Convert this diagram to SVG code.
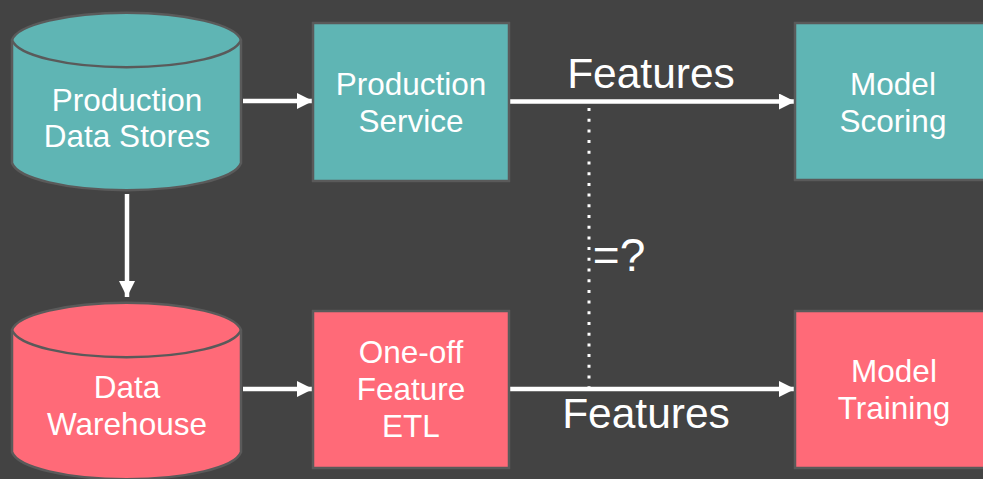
<svg xmlns="http://www.w3.org/2000/svg" width="983" height="479" viewBox="0 0 983 479">
  <defs>
    <marker id="arrow" markerUnits="userSpaceOnUse" markerWidth="18" markerHeight="16" refX="16" refY="8" orient="auto">
      <path d="M0,0 L16,8 L0,16 Z" fill="#ffffff"/>
    </marker>
    <style>
      .teal { fill: #5fb5b4; stroke: #5a5a5a; stroke-width: 2.5; }
      .pink { fill: #ff6a78; stroke: #5a5a5a; stroke-width: 2.5; }
      .lbl { font-family: "Liberation Sans", Arial, sans-serif; font-size: 31.5px; fill: #ffffff; text-anchor: middle; }
      .big { font-family: "Liberation Sans", Arial, sans-serif; font-size: 42.5px; fill: #ffffff; text-anchor: middle; }
      .flow { stroke: #ffffff; stroke-width: 4.5; fill: none; marker-end: url(#arrow); }
      .dots { stroke: #ffffff; stroke-width: 3; stroke-dasharray: 3 7.7; fill: none; }
    </style>
  </defs>

  <rect width="983" height="479" fill="#434343"/>

  <!-- connectors -->
  <g id="connectors">
    <line class="flow" x1="127" y1="194" x2="127" y2="297"/>
    <line class="flow" x1="243" y1="101" x2="313" y2="101"/>
    <line class="flow" x1="243" y1="389" x2="313" y2="389"/>
    <line class="flow" x1="510" y1="101.5" x2="795" y2="101.5"/>
    <line class="flow" x1="510" y1="389" x2="795" y2="389"/>
    <line class="dots" x1="589" y1="108" x2="589" y2="387"/>
    <text class="big" x="651" y="88">Features</text>
    <text class="big" x="646" y="428">Features</text>
    <text class="big" x="619" y="271" style="font-size:46px">=?</text>
  </g>

  <!-- Production Data Stores (cylinder) -->
  <g id="production-data-stores">
    <path class="teal" d="M12,40 A115,30 0 0 1 241,40 L241,163 A115,30 0 0 1 12,163 Z"/>
    <path class="teal" d="M12,40 A115,30 0 0 0 241,40" fill="none"/>
    <text class="lbl" x="127" y="111">Production</text>
    <text class="lbl" x="127" y="147">Data Stores</text>
  </g>

  <!-- Data Warehouse (cylinder) -->
  <g id="data-warehouse">
    <path class="pink" d="M12,330 A115,30 0 0 1 241,330 L241,452 A115,30 0 0 1 12,452 Z"/>
    <path class="pink" d="M12,330 A115,30 0 0 0 241,330" fill="none"/>
    <text class="lbl" x="127" y="398">Data</text>
    <text class="lbl" x="127" y="435">Warehouse</text>
  </g>

  <!-- Production Service -->
  <g id="production-service">
    <rect class="teal" x="313" y="23" width="196" height="158"/>
    <text class="lbl" x="411" y="95">Production</text>
    <text class="lbl" x="411" y="132">Service</text>
  </g>

  <!-- One-off Feature ETL -->
  <g id="one-off-feature-etl">
    <rect class="pink" x="313" y="311" width="196" height="157"/>
    <text class="lbl" x="411" y="363">One-off</text>
    <text class="lbl" x="411" y="400">Feature</text>
    <text class="lbl" x="411" y="437">ETL</text>
  </g>

  <!-- Model Scoring -->
  <g id="model-scoring">
    <rect class="teal" x="795" y="23" width="200" height="157"/>
    <text class="lbl" x="893" y="95">Model</text>
    <text class="lbl" x="893" y="132">Scoring</text>
  </g>

  <!-- Model Training -->
  <g id="model-training">
    <rect class="pink" x="795" y="311" width="200" height="157"/>
    <text class="lbl" x="894" y="382">Model</text>
    <text class="lbl" x="894" y="419">Training</text>
  </g>
</svg>
